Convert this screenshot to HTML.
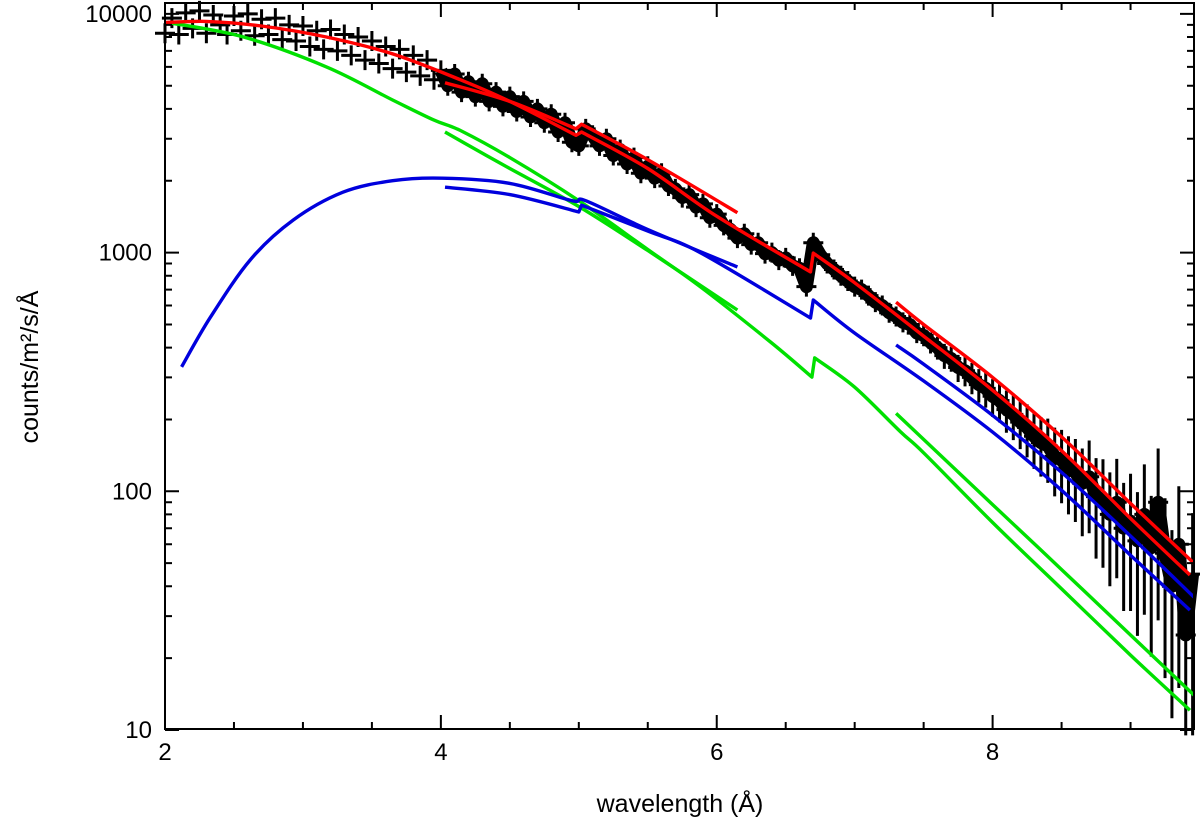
<!DOCTYPE html>
<html><head><meta charset="utf-8"><style>
html,body{margin:0;padding:0;background:#fff;}
svg text{font-family:"Liberation Sans",sans-serif;fill:#000;}
</style></head><body>
<svg id="chart" width="1200" height="825" viewBox="0 0 1200 825" xmlns="http://www.w3.org/2000/svg">
<rect x="0" y="0" width="1200" height="825" fill="#fff"/>
<g id="marks"></g>
<g id="axes"></g>
<text x="680" y="812" font-size="25" text-anchor="middle">wavelength (Å)</text>
<text transform="translate(38,367) rotate(-90)" font-size="25" text-anchor="middle">counts/m²/s/Å</text>
</svg>
<script>
const xTicks=[2,4,6,8];
const yTicks=[10,100,1000,10000];
const yTickLabels=["10","100","1000","10000"];
const dataX=[2.00,2.05,2.10,2.15,2.20,2.25,2.30,2.35,2.40,2.45,2.50,2.55,2.60,2.65,2.70,2.75,2.80,2.85,2.90,2.95,3.00,3.05,3.10,3.15,3.20,3.25,3.30,3.35,3.40,3.45,3.50,3.55,3.60,3.65,3.70,3.75,3.80,3.85,3.90,3.95,4.00,4.05,4.10,4.15,4.20,4.25,4.30,4.35,4.40,4.45,4.50,4.55,4.60,4.65,4.70,4.75,4.80,4.85,4.90,4.95,5.00,5.05,5.10,5.15,5.20,5.25,5.30,5.35,5.40,5.45,5.50,5.55,5.60,5.65,5.70,5.75,5.80,5.85,5.90,5.95,6.00,6.05,6.10,6.15,6.20,6.25,6.30,6.35,6.40,6.45,6.50,6.55,6.60,6.65,6.70,6.75,6.80,6.85,6.90,6.95,7.00,7.05,7.10,7.15,7.20,7.25,7.30,7.35,7.40,7.45,7.50,7.55,7.60,7.65,7.70,7.75,7.80,7.85,7.90,7.95,8.00,8.05,8.10,8.15,8.20,8.25,8.30,8.35,8.40,8.45,8.50,8.55,8.60,8.65,8.70,8.75,8.80,8.85,8.90,8.95,9.00,9.05,9.10,9.15,9.20,9.25,9.30,9.35,9.40,9.45];
const dataY=[8300,9600,8200,10100,8700,10300,8300,9900,9000,8200,9800,8500,10000,8100,9500,8200,9600,7800,9000,7700,8900,7300,8500,7100,8600,7000,8200,6700,8000,6400,7700,6200,7300,5900,7100,5700,6700,5500,6400,5300,5800,5000,5600,4700,5200,4500,5100,4300,4700,4100,4500,3900,4300,3700,4000,3500,3800,3200,3500,2900,2800,3300,3100,2800,3000,2550,2700,2350,2500,2150,2300,2050,2150,1900,1850,1700,1750,1550,1600,1400,1450,1300,1250,1150,1200,1080,1100,990,1000,930,950,880,860,720,1100,980,900,850,800,760,720,700,660,620,600,560,540,510,500,460,450,420,400,370,360,330,320,300,280,270,250,240,220,210,195,185,170,160,155,140,135,125,120,108,115,95,92,80,90,70,75,62,80,58,90,55,40,60,25,45];
const dataErrLate=[0.04,0.05,0.05,0.06,0.06,0.07,0.07,0.08,0.08,0.09,0.10,0.10,0.11,0.12,0.12,0.13,0.14,0.15,0.16,0.17,0.18,0.19,0.20,0.22,0.23,0.25,0.27,0.28,0.30,0.32,0.34,0.36,0.38,0.40,0.42,0.45,0.48,0.50,0.52,0.55,0.58,0.60,0.62,0.65,0.68,0.70,0.72,0.75,0.80,0.80];
const red1X=[2,2.3,2.7,3.17,3.65,4.14,4.5,4.98,5.02,5.5,6,6.68,6.7,7,7.5,8,8.5,9,9.43];
const red1Y=[9200,9300,8900,8000,6800,5300,4300,3100,3200,2250,1420,830,995,747,447,265,148,77,44.6];
const red2X=[4.03,4.5,4.98,5.02,5.5,6.15];
const red2Y=[5150,4300,3300,3450,2450,1470];
const red3X=[7.3,7.5,8,8.5,9,9.46];
const red3Y=[620,500,300,169,89,50];
const greenAX=[2.04,2.57,3.17,3.65,3.95,4.14,4.5,5,5.5,5.88,6.39,6.69,6.71,7,7.33,7.5,8,8.5,9,9.43];
const greenAY=[9170,8000,6000,4360,3590,3250,2500,1650,1030,720,422,301,362,273,178,145,74,39,20.6,12.1];
const greenBX=[4.03,4.26,4.5,5,5.5,6.15];
const greenBY=[3200,2690,2250,1560,1020,575];
const greenCX=[7.3,8,8.5,9,9.46];
const greenCY=[212,88,47,25,14];
const blue1X=[2.12,2.33,2.62,2.93,3.29,3.65,4.01,4.5,4.95,5.05,5.5,6.15];
const blue1Y=[332,537,935,1370,1790,2000,2050,1950,1650,1650,1250,870];
const blue2X=[4.03,4.5,5.0,5.02,5.5,5.88,6.68,6.7,7,7.5,8,8.5,9,9.43];
const blue2Y=[1880,1750,1480,1580,1230,1000,532,633,460,290,177,101,54,31.8];
const blue3X=[7.3,7.5,8,8.5,9,9.46];
const blue3Y=[410,341,208,120,65,36];

const L=165,R=1194,T=3,B=729;
const X0=2,X1=9.46;
function xs(v){return L+(v-X0)/(X1-X0)*(R-L);}
function ys(v){return 730-238.7*(Math.log10(v)-1);}
const NS="http://www.w3.org/2000/svg";
const marks=document.getElementById('marks');
const axes=document.getElementById('axes');
function mk(tag,attrs,parent){const e=document.createElementNS(NS,tag);for(const k in attrs)e.setAttribute(k,attrs[k]);parent.appendChild(e);return e;}

const dg=mk('g',{},marks);


let band='';
for(let i=0;i<dataX.length;i++){
  const x=xs(dataX[i]),y=ys(dataY[i]);
  if(dataX[i]>=4) band+=(band?'L':'M')+x+','+y;
}
const bp=mk('path',{d:band,stroke:'#000','stroke-width':13,fill:'none','stroke-linejoin':'round'},dg);


for(let i=0;i<dataX.length;i++){
  const x=xs(dataX[i]),y=ys(dataY[i]);
  const ef=i>=100?dataErrLate[i-100]:0.04;
  const y1=ys(dataY[i]*(1+ef)),y2=ys(Math.max(dataY[i]*(1-ef),9.5));
  const p=mk('path',{d:`M${x-10},${y}H${x+10}M${x},${Math.min(y-10,y1)}V${Math.max(y+10,y2)}`,stroke:'#000','stroke-width':3,fill:'none'},dg);
  
  
}

function smoothPath(X,Y){
  const P=X.map((v,i)=>[xs(v),ys(Y[i])]);
  let d='M'+P[0][0].toFixed(1)+','+P[0][1].toFixed(1);
  const runs=[];let cur=[P[0]];
  for(let i=1;i<P.length;i++){
    if(X[i]-X[i-1]<0.06){runs.push(cur);cur=[P[i]];}else cur.push(P[i]);
  }
  runs.push(cur);
  runs.forEach((r,ri)=>{
    if(ri>0)d+='L'+r[0][0].toFixed(1)+','+r[0][1].toFixed(1);
    for(let i=0;i<r.length-1;i++){
      const p0=r[Math.max(i-1,0)],p1=r[i],p2=r[i+1],p3=r[Math.min(i+2,r.length-1)];
      const c1=[p1[0]+(p2[0]-p0[0])/6,p1[1]+(p2[1]-p0[1])/6];
      const c2=[p2[0]-(p3[0]-p1[0])/6,p2[1]-(p3[1]-p1[1])/6];
      d+=`C${c1[0].toFixed(1)},${c1[1].toFixed(1)} ${c2[0].toFixed(1)},${c2[1].toFixed(1)} ${p2[0].toFixed(1)},${p2[1].toFixed(1)}`;
    }
  });
  return d;
}
function line(X,Y,color,name){
  const p=mk('path',{d:smoothPath(X,Y),stroke:color,'stroke-width':3.4,fill:'none','stroke-linejoin':'round'},marks);
  
  
}
line(greenAX,greenAY,'#00e000','green-model-full');
line(greenBX,greenBY,'#00e000','green-model-segment-1');
line(greenCX,greenCY,'#00e000','green-model-segment-2');
line(blue1X,blue1Y,'#0000dd','blue-model-1');
line(blue2X,blue2Y,'#0000dd','blue-model-2');
line(blue3X,blue3Y,'#0000dd','blue-model-3');
line(red1X,red1Y,'#ff0000','red-model-full');
line(red2X,red2Y,'#ff0000','red-model-segment-1');
line(red3X,red3Y,'#ff0000','red-model-segment-2');

const fr=mk('rect',{x:L,y:T,width:R-L,height:B-T,fill:'none',stroke:'#000','stroke-width':2},axes);


for(let v=2;v<=9.46;v+=0.5){
  const x=xs(v),major=Math.abs(v-Math.round(v/2)*2)<1e-6;
  const len=major?14:7;
  mk('path',{d:`M${x},${B}V${B-len}M${x},${T}V${T+len}`,stroke:'#000','stroke-width':2},axes);
}
xTicks.forEach(v=>{
  const t=mk('text',{x:xs(v),y:760,'font-size':24,'text-anchor':'middle'},axes);
  t.textContent=String(v);
  
  
});
for(let dec=10;dec<=10000;dec*=10){
  for(let m=1;m<=9;m++){
    const v=dec*m;if(v>11000)break;
    const y=ys(v),len=m===1?14:7;
    mk('path',{d:`M${L},${y}H${L+len}M${R},${y}H${R-len}`,stroke:'#000','stroke-width':2},axes);
  }
}
yTicks.forEach((v,i)=>{
  const t=mk('text',{x:152,y:ys(v)+8,'font-size':24,'text-anchor':'end'},axes);
  t.textContent=yTickLabels[i];
  
  
});
</script>
</body></html>
